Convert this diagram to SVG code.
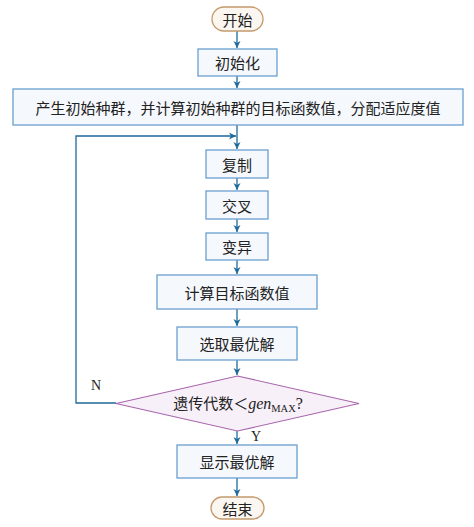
<svg xmlns="http://www.w3.org/2000/svg" width="474" height="527" viewBox="0 0 474 527">
<defs>
<style>
.box{fill:#f5f8fd;stroke:#6a9fd0;stroke-width:1.3}
.pill{fill:#fbf6f0;stroke:#c49a6c;stroke-width:1.3}
.dia{fill:#f8f0f8;stroke:#a865ad;stroke-width:1.1}
.t{font-family:"Noto Sans CJK SC","Liberation Sans",sans-serif;font-size:15px;fill:#222;text-anchor:middle;dominant-baseline:central}
.l{font-family:"Liberation Serif",serif;font-size:14px;fill:#222}
.c{fill:none;stroke:#1f6a9a;stroke-width:1.3}
</style>
<marker id="a" markerWidth="8" markerHeight="8" refX="7" refY="4" orient="auto" markerUnits="userSpaceOnUse">
<path d="M0,0.5 L7,4 L0,7.5 L2,4 Z" fill="#1f6a9a"/>
</marker>
</defs>
<rect width="474" height="527" fill="#ffffff"/>
<g id="connectors">
<line class="c" x1="237" y1="31" x2="237" y2="48" marker-end="url(#a)"/>
<line class="c" x1="237" y1="76" x2="237" y2="88" marker-end="url(#a)"/>
<line class="c" x1="237" y1="125" x2="237" y2="149" marker-end="url(#a)"/>
<line class="c" x1="237" y1="178" x2="237" y2="190" marker-end="url(#a)"/>
<line class="c" x1="237" y1="219" x2="237" y2="232" marker-end="url(#a)"/>
<line class="c" x1="237" y1="260" x2="237" y2="274" marker-end="url(#a)"/>
<line class="c" x1="237" y1="309" x2="237" y2="326" marker-end="url(#a)"/>
<line class="c" x1="237" y1="360" x2="237" y2="375" marker-end="url(#a)"/>
<line class="c" x1="237" y1="431" x2="237" y2="444" marker-end="url(#a)"/>
<line class="c" x1="237" y1="478" x2="237" y2="496" marker-end="url(#a)"/>
<polyline class="c" points="116,403 76,403 76,136 236,136" marker-end="url(#a)"/>
<text class="l" x="91" y="390">N</text>
<text class="l" x="251" y="441">Y</text>
</g>
<g id="start"><rect class="pill" x="212" y="7" width="51" height="24" rx="12"/><text class="t" x="237.5" y="19">开始</text></g>
<g id="init"><rect class="box" x="198" y="49" width="79" height="27"/><text class="t" x="237.5" y="62.5">初始化</text></g>
<g id="gen"><rect class="box" x="13" y="89" width="450" height="36"/><text class="t" x="238" y="107" textLength="405" lengthAdjust="spacing">产生初始种群，并计算初始种群的目标函数值，分配适应度值</text></g>
<g id="copy"><rect class="box" x="206" y="150" width="62" height="28"/><text class="t" x="237" y="164">复制</text></g>
<g id="cross"><rect class="box" x="206" y="191" width="62" height="28"/><text class="t" x="237" y="205">交叉</text></g>
<g id="mut"><rect class="box" x="206" y="233" width="62" height="27"/><text class="t" x="237" y="246.5">变异</text></g>
<g id="calc"><rect class="box" x="157" y="275" width="160" height="34"/><text class="t" x="237" y="292">计算目标函数值</text></g>
<g id="select"><rect class="box" x="177" y="327" width="120" height="33"/><text class="t" x="237" y="343.5">选取最优解</text></g>
<g id="cond"><polygon class="dia" points="237.5,376 359,403.5 237.5,431 116,403.5"/>
<text x="238" y="409" text-anchor="middle" fill="#222"><tspan font-family="Noto Sans CJK SC,sans-serif" font-size="15">遗传代数＜</tspan><tspan font-family="Liberation Serif,serif" font-style="italic" font-size="16">gen</tspan><tspan font-family="Liberation Serif,serif" font-size="10.5" dy="3">MAX</tspan><tspan font-family="Liberation Serif,serif" font-size="16" dy="-3">?</tspan></text></g>
<g id="show"><rect class="box" x="177" y="445" width="120" height="33"/><text class="t" x="237" y="461.5">显示最优解</text></g>
<g id="end"><rect class="pill" x="211" y="497" width="53" height="22" rx="11"/><text class="t" x="237.5" y="508">结束</text></g>
</svg>
